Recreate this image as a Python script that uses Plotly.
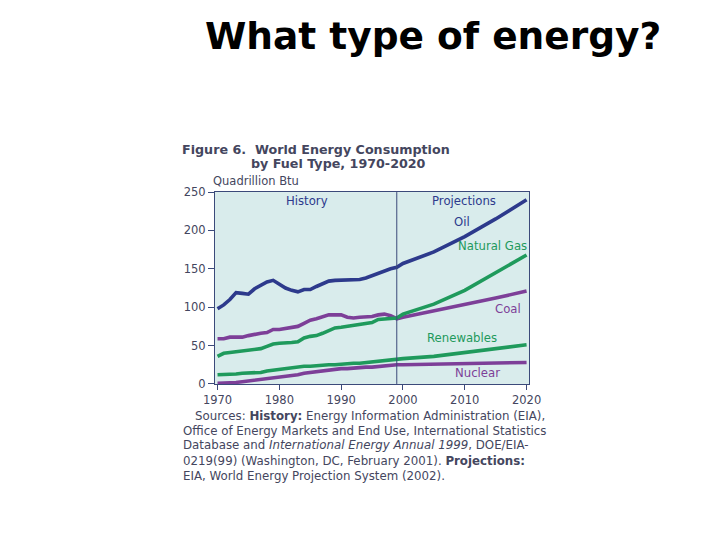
import plotly.graph_objects as go

years_hist = [1970,1971,1972,1973,1974,1975,1976,1977,1978,1979,1980,1981,1982,1983,1984,
              1985,1986,1987,1988,1989,1990,1991,1992,1993,1994,1995,1996,1997,1998,1999]
years_proj = [1999,2000,2005,2010,2015,2020]

oil_hist = [98,103,110,119,118,117,124,128,133,135,130,125,122,120,123,
            123,127,130,134,135,135,136,136,136,138,141,144,148,150,152]
oil_proj = [152,157,172,192,215,240]

coal_hist = [59,59,61,61,61,63,65,66,67,71,71,72,73,75,79,
             83,85,88,90,90,90,87,86,87,87,88,90,91,89,85]
coal_proj = [85,87,95,103,112,121]

gas_hist = [36,40,41,42,42,43,45,46,49,52,53,53,54,55,60,
            62,63,66,70,73,74,75,76,77,79,80,84,85,85,86]
gas_proj = [86,91,104,122,145,168]

ren_hist = [12,12,13,13,14,14,15,15,17,18,20,21,21,22,23,
            23,24,24,25,25,26,26,27,27,28,29,30,30,31,32]
ren_proj = [32,33,36,41,46,51]

nuc_hist = [1,1,2,2,3,4,5,6,7,7,8,9,10,12,14,
            15,17,18,19,19,20,20,21,21,22,22,23,23,24,25]
nuc_proj = [25,25,26,27,28,28]

NAVY = "#2d3a8c"
GREEN = "#1f9a5c"
PURPLE = "#7d3f98"
TXT = "#44465e"
FONT = "DejaVu Sans, Liberation Sans, Arial"

W, H = 720, 540
def px(x):
    return x / W
def py(y):
    return 1 - y / H

series = [
    ("Oil", oil_hist, oil_proj, NAVY),
    ("Coal", coal_hist, coal_proj, PURPLE),
    ("Natural Gas", gas_hist, gas_proj, GREEN),
    ("Renewables", ren_hist, ren_proj, GREEN),
    ("Nuclear", nuc_hist, nuc_proj, PURPLE),
]

fig = go.Figure()
for name, h, p, c in series:
    fig.add_trace(go.Scatter(x=years_hist + years_proj[1:], y=h + p[1:], mode="lines",
                             line=dict(color=c, width=3.6), name=name, showlegend=False,
                             hoverinfo="skip"))

# divider at 1999
fig.add_shape(type="line", xref="x", yref="y domain", x0=1999, x1=1999,
              y0=0, y1=1, line=dict(color="#3b4a7a", width=1))

labels = [
    ("History", 1984.4, 238, NAVY),
    ("Projections", 2009.8, 238, NAVY),
    ("Oil", 2009.6, 211, NAVY),
    ("Natural Gas", 2014.5, 180, GREEN),
    ("Coal", 2017.0, 98, PURPLE),
    ("Renewables", 2009.5, 60, GREEN),
    ("Nuclear", 2012.0, 14, PURPLE),
]
for t, x, y, c in labels:
    fig.add_annotation(x=x, y=y, xref="x", yref="y", text=t, showarrow=False,
                       xanchor="center", yanchor="middle",
                       font=dict(family=FONT, size=11.7, color=c))

fig.update_layout(
    width=W, height=H,
    margin=dict(l=0, r=0, t=0, b=0),
    paper_bgcolor="white",
    plot_bgcolor="#d9ecec",
    font=dict(family=FONT, color=TXT),
    xaxis=dict(domain=[px(210), px(535)], range=[1969.59, 2020.42],
               tickvals=[1970,1980,1990,2000,2010,2020], ticks="outside", ticklen=5,
               tickcolor="#3b4a7a", showgrid=False, zeroline=False,
               showline=True, linecolor="#3b4a7a", mirror=True, linewidth=1,
               tickfont=dict(family=FONT, size=11.5, color=TXT)),
    yaxis=dict(domain=[py(387), py(190)], range=[0, 250],
               tickvals=[0,50,100,150,200,250], ticks="outside", ticklen=6,
               tickcolor="#3b4a7a", showgrid=False, zeroline=False,
               showline=True, linecolor="#3b4a7a", mirror=True, linewidth=1,
               tickfont=dict(family=FONT, size=11.5, color=TXT)),
)

# slide title
fig.add_annotation(x=px(436), y=py(30), xref="paper", yref="paper",
                   xanchor="center", yanchor="middle",
                   text="<b>What type of energy?</b>", showarrow=False,
                   font=dict(family="DejaVu Sans", size=37.5, color="black"))

# figure title
fig.add_annotation(x=px(174), y=py(146), xref="paper", yref="paper",
                   xanchor="left", yanchor="middle",
                   text="<b>Figure 6.  World Energy Consumption</b>", showarrow=False,
                   font=dict(family=FONT, size=12.7, color=TXT))
fig.add_annotation(x=px(245), y=py(161), xref="paper", yref="paper",
                   xanchor="left", yanchor="middle",
                   text="<b>by Fuel Type, 1970-2020</b>", showarrow=False,
                   font=dict(family=FONT, size=12.7, color=TXT))
fig.add_annotation(x=px(206), y=py(179), xref="paper", yref="paper",
                   xanchor="left", yanchor="middle",
                   text="Quadrillion Btu", showarrow=False,
                   font=dict(family=FONT, size=11.5, color=TXT))

src_lines = [
    (187, 420, "Sources: <b>History:</b> Energy Information Administration (EIA),"),
    (175, 435, "Office of Energy Markets and End Use, International Statistics"),
    (175, 450, "Database and <i>International Energy Annual 1999</i>, DOE/EIA-"),
    (175, 466, "0219(99) (Washington, DC, February 2001). <b>Projections:</b>"),
    (175, 481, "EIA, World Energy Projection System (2002)."),
]
for x, y, t in src_lines:
    fig.add_annotation(x=px(x), y=py(y), xref="paper", yref="paper",
                       xanchor="left", yanchor="middle",
                       text=t, showarrow=False, font=dict(family=FONT, size=11.8, color=TXT))

fig.write_html("out.html")
